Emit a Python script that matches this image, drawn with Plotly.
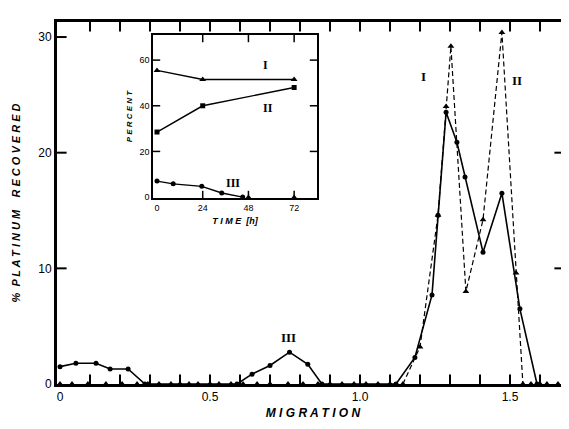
import plotly.graph_objects as go

# ---- main chart data ----
solid_x = [0.0, 0.053, 0.12, 0.167, 0.227, 0.283, 0.59, 0.64, 0.70, 0.765, 0.826, 0.873,
           1.12, 1.183, 1.24, 1.26, 1.287, 1.323, 1.35, 1.41, 1.473, 1.533, 1.59]
solid_y = [1.5, 1.8, 1.8, 1.3, 1.3, 0.0, 0.0, 0.85, 1.6, 2.75, 1.7, 0.0,
           0.0, 2.3, 7.7, 14.6, 23.5, 20.9, 17.9, 11.4, 16.5, 6.5, 0.0]

dash_x = [1.143, 1.2, 1.26, 1.287, 1.303, 1.353, 1.41, 1.473, 1.52, 1.543]
dash_y = [0.0, 3.2, 14.6, 24.0, 29.2, 8.0, 14.2, 30.4, 9.6, 0.0]

base_x = [0.0, 0.04, 0.093, 0.153, 0.207, 0.257, 0.293, 0.33, 0.37, 0.40, 0.43, 0.46,
          0.50, 0.53, 0.57, 0.61, 0.657, 0.70, 0.76, 0.81, 0.86, 0.90, 0.94, 0.98,
          1.02, 1.06, 1.10, 1.57, 1.60, 1.623, 1.66]
base_y = [0.0] * len(base_x)

main_labels = ["I", "II", "III"]
main_label_x = [1.21, 1.523, 0.763]
main_label_y = [26.6, 26.2, 4.0]

# ---- inset data ----
t_I = [0, 24, 72]
p_I = [55.5, 51.5, 51.5]
t_II = [0, 24, 72]
p_II = [28.5, 40, 48]
t_III = [0, 8.5, 23.5, 34, 45]
p_III = [7, 5.8, 4.7, 1.8, 0]
t_end = [48, 72]
p_end = [0, 0]

inset_labels = ["I", "II", "III"]
inset_label_x = [57, 58.5, 40]
inset_label_y = [58, 39, 6]

# ---- tick values ----
main_xticks = [0, 0.5, 1.0, 1.5]
main_xticklabels = ["0", "0.5", "1.0", "1.5"]
main_xminor = [0.1, 0.2, 0.3, 0.4, 0.5, 0.6, 0.7, 0.8, 0.9, 1.0, 1.1, 1.2, 1.3, 1.4, 1.5, 1.6]
main_yticks = [0, 10, 20, 30]
main_yticks_marks = [10, 20, 30]
main_yticks_right = [10, 20]
inset_xticks = [0, 24, 48, 72]
inset_xtick_marks = [24, 48, 72]
inset_yticks = [0, 20, 40, 60]
inset_ytick_marks = [20, 40, 60]

# ---- geometry (page body adds an 8px offset, compensate for it) ----
OFF = 8
W, H = 569 - OFF, 429 - OFF
ML, MR, MT, MB = 57 - OFF, 0, 22 - OFF, 45
PW, PH = W - ML - MR, H - MT - MB
XR = [-0.01, -0.01 + PW / 300.0]
YR = [0, 31.3]
dx = (XR[1] - XR[0]) / PW
dy = (YR[1] - YR[0]) / PH

IX_DOM = [(153 - 57) / PW, (317 - 57) / PW]
IY_DOM = [(384 - 198) / PH, (384 - 35) / PH]
IXR = [-2.1, 84]
IYR = [-0.4, 71]
idx = (IXR[1] - IXR[0]) / ((IX_DOM[1] - IX_DOM[0]) * PW)
idy = (IYR[1] - IYR[0]) / ((IY_DOM[1] - IY_DOM[0]) * PH)

fig = go.Figure()


def tickmarks(xs, ys, sym, size, xa="x", ya="y", w=2):
    fig.add_trace(go.Scatter(x=xs, y=ys, mode="markers", xaxis=xa, yaxis=ya,
                             marker=dict(symbol=sym, size=size, color="black",
                                         line=dict(width=w, color="black")),
                             cliponaxis=False, showlegend=False, hoverinfo="skip"))


# main data traces
fig.add_trace(go.Scatter(x=solid_x, y=solid_y, mode="lines+markers",
                         line=dict(color="black", width=1.6),
                         marker=dict(symbol="circle", size=5, color="black"),
                         cliponaxis=False, showlegend=False))
fig.add_trace(go.Scatter(x=dash_x, y=dash_y, mode="lines+markers",
                         line=dict(color="black", width=1.2, dash="5px,3px"),
                         marker=dict(symbol="triangle-up", size=6, color="black"),
                         cliponaxis=False, showlegend=False))
fig.add_trace(go.Scatter(x=base_x, y=base_y, mode="markers",
                         marker=dict(symbol="triangle-up", size=6, color="black"),
                         cliponaxis=False, showlegend=False))

# main tick marks (inward)
L = 8
tickmarks(main_xminor, [YR[0] + (L / 2) * dy] * len(main_xminor), "line-ns-open", L)
tickmarks(main_xminor, [YR[1] - (L / 2) * dy] * len(main_xminor), "line-ns-open", L)
tickmarks([XR[0] + (L / 2) * dx] * len(main_yticks_marks), main_yticks_marks, "line-ew-open", L)
tickmarks([XR[1] - 9 * dx] * len(main_yticks_right), main_yticks_right, "line-ew-open", L)

# inset data traces
fig.add_trace(go.Scatter(x=t_I, y=p_I, mode="lines+markers", xaxis="x2", yaxis="y2",
                         line=dict(color="black", width=1.4),
                         marker=dict(symbol="triangle-up", size=6, color="black"),
                         cliponaxis=False, showlegend=False))
fig.add_trace(go.Scatter(x=t_II, y=p_II, mode="lines+markers", xaxis="x2", yaxis="y2",
                         line=dict(color="black", width=1.4),
                         marker=dict(symbol="square", size=5, color="black"),
                         cliponaxis=False, showlegend=False))
fig.add_trace(go.Scatter(x=t_III, y=p_III, mode="lines+markers", xaxis="x2", yaxis="y2",
                         line=dict(color="black", width=1.4),
                         marker=dict(symbol="circle", size=5, color="black"),
                         cliponaxis=False, showlegend=False))
fig.add_trace(go.Scatter(x=t_end, y=p_end, mode="markers", xaxis="x2", yaxis="y2",
                         marker=dict(symbol="triangle-up", size=5, color="black"),
                         cliponaxis=False, showlegend=False))

# inset tick marks (inward)
l = 6
tickmarks(inset_xtick_marks, [IYR[1] - (l / 2) * idy] * 3, "line-ns-open", l, "x2", "y2", 1.5)
tickmarks(inset_xtick_marks, [IYR[0] + (l / 2) * idy] * 3, "line-ns-open", l, "x2", "y2", 1.5)
tickmarks([IXR[1] - (l / 2) * idx] * 3, inset_ytick_marks, "line-ew-open", l, "x2", "y2", 1.5)
tickmarks([IXR[0] + (l / 2) * idx] * 3, inset_ytick_marks, "line-ew-open", l, "x2", "y2", 1.5)

ann = []
for s, x, y in zip(main_labels, main_label_x, main_label_y):
    ann.append(dict(x=x, y=y, xref="x", yref="y", text="<b>" + s + "</b>", showarrow=False,
                    font=dict(family="Liberation Serif", size=13, color="black")))
for s, x, y in zip(inset_labels, inset_label_x, inset_label_y):
    ann.append(dict(x=x, y=y, xref="x2", yref="y2", text="<b>" + s + "</b>", showarrow=False,
                    font=dict(family="Liberation Serif", size=12, color="black")))

fig.update_layout(
    template="none",
    width=W, height=H,
    margin=dict(l=ML, r=MR, t=MT, b=MB),
    paper_bgcolor="white", plot_bgcolor="white",
    font=dict(family="Liberation Sans", color="black"),
    annotations=ann,
    xaxis=dict(range=XR, tickmode="array", tickvals=main_xticks,
               ticktext=main_xticklabels, ticks="",
               showline=True, linewidth=3, linecolor="black", mirror=True,
               showgrid=False, zeroline=False,
               tickfont=dict(size=12, family="Liberation Sans"),
               title=dict(text="<b><i>M I G R A T I O N</i></b>",
                          font=dict(size=12), standoff=6)),
    yaxis=dict(range=YR, tickmode="array", tickvals=main_yticks, ticks="",
               showline=True, linewidth=3, linecolor="black", mirror=False,
               showgrid=False, zeroline=False,
               tickfont=dict(size=12, family="Liberation Sans"),
               title=dict(text="<b><i>%  P L A T I N U M    R E C O V E R E D</i></b>",
                          font=dict(size=11), standoff=16)),
    xaxis2=dict(domain=IX_DOM, anchor="y2", range=IXR,
                tickmode="array", tickvals=inset_xticks, ticks="",
                showline=True, linewidth=1.5, linecolor="black", mirror=True,
                showgrid=False, zeroline=False,
                tickfont=dict(size=9, family="Liberation Sans"),
                title=dict(text="<b><i>T I M E  [h]</i></b>", font=dict(size=9),
                           standoff=6)),
    yaxis2=dict(domain=IY_DOM, anchor="x2", range=IYR,
                tickmode="array", tickvals=inset_yticks, ticks="",
                showline=True, linewidth=1.5, linecolor="black", mirror=True,
                showgrid=False, zeroline=False,
                tickfont=dict(size=9, family="Liberation Sans"),
                title=dict(text="<b><i>P E R C E N T</i></b>", font=dict(size=8),
                           standoff=6)),
)

fig.write_html("out.html")
